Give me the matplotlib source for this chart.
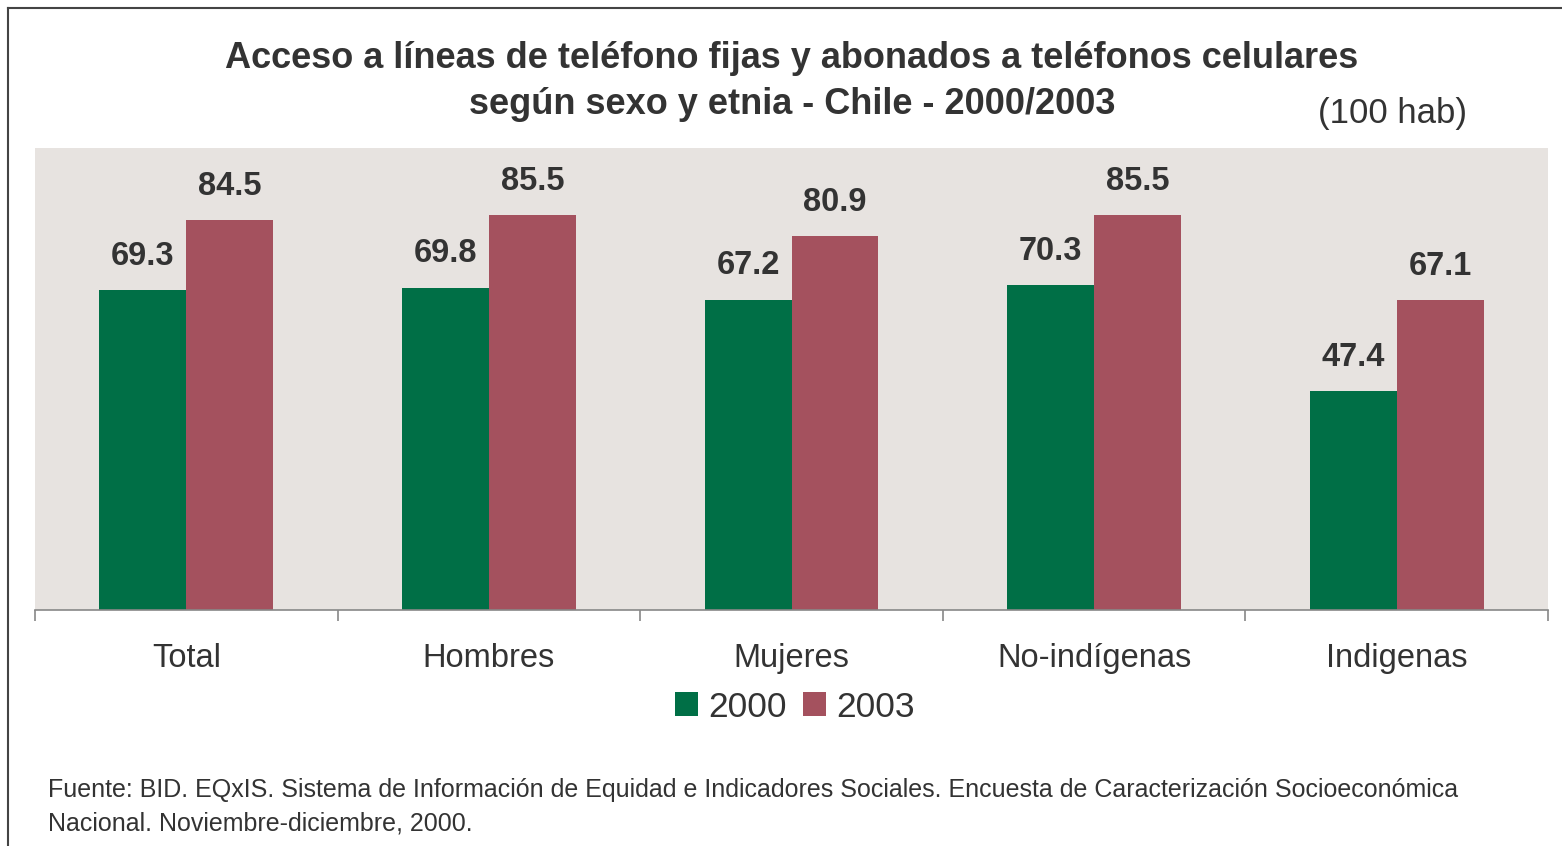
import matplotlib
matplotlib.use("Agg")
import matplotlib.pyplot as plt
from matplotlib.lines import Line2D
from matplotlib.patches import Patch
import numpy as np

categories = ["Total", "Hombres", "Mujeres", "No-indígenas", "Indigenas"]
values_2000 = [69.3, 69.8, 67.2, 70.3, 47.4]
values_2003 = [84.5, 85.5, 80.9, 85.5, 67.1]
series_names = ["2000", "2003"]

plt.rcParams['font.family'] = ['Liberation Sans', 'DejaVu Sans']
TXT = "#333333"
GREEN = "#006F46"
RED = "#A4515E"
BG = "#E7E3E0"

fig = plt.figure(figsize=(15.62, 8.46), dpi=100)
ax = fig.add_axes([35/1562, 1-610/846, 1513/1562, 462/846])
ax.set_facecolor(BG)

x = np.arange(len(categories))
w = 0.287
b1 = ax.bar(x - w/2, values_2000, width=w, color=GREEN)
b2 = ax.bar(x + w/2, values_2003, width=w, color=RED)
for bars, vals in ((b1, values_2000), (b2, values_2003)):
    for r, v in zip(bars, vals):
        ax.annotate(f"{v:.1f}", (r.get_x() + r.get_width()/2, v), xytext=(0, 13),
                    textcoords="offset points", ha="center", va="bottom",
                    fontsize=23.5, fontweight="bold", color=TXT)

ax.set_xlim(-0.5, len(categories) - 0.5)
ax.set_ylim(0, 100)
for s in ("top", "right", "left"):
    ax.spines[s].set_visible(False)
ax.spines["bottom"].set_color("#888888")
ax.spines["bottom"].set_linewidth(1.2)
ax.set_yticks([])
ax.set_xticks(np.arange(len(categories) + 1) - 0.5)
ax.set_xticklabels([])
ax.tick_params(axis="x", which="major", length=8, color="#888888", width=1.2)
ax.set_xticks(x, minor=True)
ax.set_xticklabels(categories, minor=True, fontsize=23.5, color=TXT)
ax.tick_params(axis="x", which="minor", length=0, pad=24)

fig.text(0.507, 1-58/846, "Acceso a líneas de teléfono fijas y abonados a teléfonos celulares",
         ha="center", va="center", fontsize=26, fontweight="bold", color=TXT)
fig.text(0.507, 1-104/846, "según sexo y etnia - Chile - 2000/2003",
         ha="center", va="center", fontsize=26, fontweight="bold", color=TXT)
fig.text(1392/1562, 1-113/846, "(100 hab)", ha="center", va="center", fontsize=25, color=TXT)

handles = [Patch(facecolor=GREEN, edgecolor="none"), Patch(facecolor=RED, edgecolor="none")]
fig.legend(handles, series_names, loc="center", bbox_to_anchor=(795/1562, 1-707/846),
           ncol=2, frameon=False, fontsize=25.5, handlelength=0.65, handleheight=0.65,
           handletextpad=0.3, columnspacing=0.45, labelcolor=TXT)

fig.text(48/1562, 1-790/846,
         "Fuente: BID. EQxIS. Sistema de Información de Equidad e Indicadores Sociales. Encuesta de Caracterización Socioeconómica",
         ha="left", va="center", fontsize=18, color=TXT)
fig.text(48/1562, 1-823/846, "Nacional. Noviembre-diciembre, 2000.",
         ha="left", va="center", fontsize=18, color=TXT)

fig.add_artist(Line2D([8/1562, 8/1562], [0, 1-8/846], transform=fig.transFigure, color="#444444", lw=1.5))
fig.add_artist(Line2D([8/1562, 1], [1-8/846, 1-8/846], transform=fig.transFigure, color="#444444", lw=1.5))

fig.savefig("out.png", dpi=100, facecolor="white")
